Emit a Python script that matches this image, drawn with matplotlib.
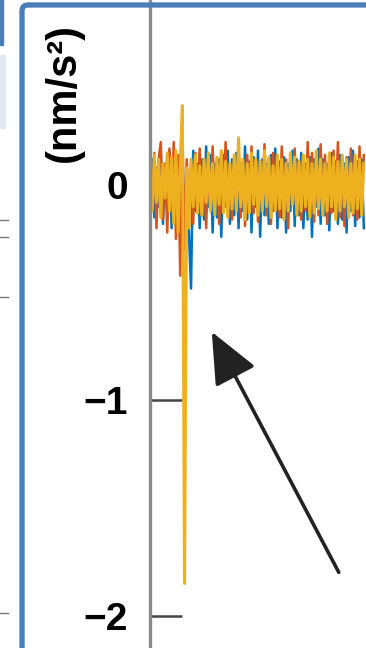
import matplotlib.pyplot as plt
import numpy as np
from matplotlib.patches import FancyBboxPatch, Rectangle
from matplotlib.lines import Line2D

plt.rcParams['font.family'] = ['Liberation Sans', 'DejaVu Sans']
plt.rcParams['axes.unicode_minus'] = True

# ---------- data (nm/s^2), one value per sample ---------- #
blue = [-0.22, 0.12, -0.15, 0.08, -0.10, 0.14, -0.18, 0.10, -0.12, 0.16,
        -0.20, 0.10, -0.14, 0.12, -0.25, 0.15, -0.18, 0.08, -0.22, -0.48,
        0.16, -0.12, 0.10, -0.20, 0.12, -0.16, 0.18, -0.10, 0.14, -0.22,
        0.10, -0.15, 0.12, -0.24, 0.14, -0.10, 0.16, -0.18, 0.12, -0.14,
        0.15, -0.20, 0.10, -0.12, 0.18, -0.16, 0.11, -0.22, 0.13, -0.10,
        0.16, -0.24, 0.12, -0.14, 0.10, -0.18, 0.14, -0.12, 0.17, -0.20,
        0.11, -0.15, 0.13, -0.22, 0.10, -0.12, 0.16, -0.19, 0.12, -0.14,
        0.15, -0.20, 0.10, -0.16, 0.13, -0.24, 0.12, -0.10, 0.17, -0.18,
        0.12, -0.14, 0.10, -0.21, 0.15, -0.12, 0.11, -0.18, 0.14, -0.16,
        0.10, -0.22, 0.13, -0.12, 0.16, -0.19, 0.11, -0.15, 0.12, -0.20]

orange = [0.18, -0.10, 0.15, -0.20, 0.12, 0.20, -0.16, 0.10, -0.22, 0.17,
          -0.12, 0.20, -0.25, 0.14, -0.42, 0.25, -0.30, 0.12, -0.16, 0.10,
          -0.18, 0.15, -0.08, 0.17, -0.14, 0.10, -0.20, 0.14, -0.12, 0.18,
          -0.10, 0.12, -0.18, 0.15, -0.08, 0.20, -0.14, 0.10, -0.16, 0.13,
          -0.12, 0.17, -0.15, 0.11, -0.19, 0.14, -0.10, 0.18, -0.13, 0.12,
          -0.17, 0.10, -0.12, 0.19, -0.14, 0.11, -0.18, 0.15, -0.10, 0.13,
          -0.15, 0.18, -0.11, 0.12, -0.20, 0.14, -0.09, 0.17, -0.13, 0.11,
          -0.16, 0.13, -0.12, 0.20, -0.10, 0.15, -0.17, 0.11, -0.14, 0.19,
          -0.11, 0.14, -0.18, 0.12, -0.13, 0.16, -0.10, 0.20, -0.15, 0.12,
          -0.19, 0.13, -0.11, 0.17, -0.14, 0.10, -0.16, 0.18, -0.12, 0.14]

yellow = [0.06, -0.12, 0.14, -0.08, 0.12, -0.15, 0.10, -0.06, 0.15, -0.12,
          0.13, -0.18, 0.16, -0.22, 0.10, 0.37, -1.85, 0.08, -0.20, 0.12,
          -0.10, 0.14, -0.13, 0.09, -0.14, 0.12, -0.08, 0.15, -0.12, 0.10,
          -0.14, 0.13, -0.09, 0.16, -0.13, 0.11, -0.15, 0.10, -0.11, 0.14,
          -0.12, 0.22, -0.10, 0.12, -0.16, 0.10, -0.13, 0.15, -0.09, 0.12,
          -0.14, 0.11, -0.12, 0.16, -0.10, 0.13, -0.15, 0.09, -0.12, 0.14,
          -0.11, 0.12, -0.16, 0.10, -0.12, 0.15, -0.09, 0.13, -0.14, 0.11,
          -0.12, 0.14, -0.10, 0.12, -0.15, 0.10, -0.13, 0.16, -0.11, 0.12,
          -0.14, 0.10, -0.12, 0.15, -0.10, 0.13, -0.16, 0.11, -0.12, 0.14,
          -0.10, 0.12, -0.15, 0.10, -0.13, 0.14, -0.11, 0.12, -0.14, 0.10]

yticks = [-2, -1, 0]
ytick_labels = ['\u22122', '\u22121', '0']

# ---------- figure ---------- #
fig = plt.figure(figsize=(3.66, 6.48), dpi=100)
ax = fig.add_axes([150 / 366, 0, 216 / 366, 1])

for vals, c, w in [(blue, '#0072BD', 1.8), (orange, '#D95319', 1.8), (yellow, '#EDB120', 2.2)]:
    ax.plot(np.arange(len(vals)), vals, color=c, lw=w)

ax.set_xlim(0, 100)
ax.set_ylim(-2.15, 0.86)
ax.set_xticks([])
ax.set_yticks(yticks)
ax.set_yticklabels(ytick_labels, fontsize=28, fontweight='bold')
ax.tick_params(axis='y', direction='in', length=23, width=1.8, color='#444444', pad=16)
for s in ['top', 'right', 'bottom']:
    ax.spines[s].set_visible(False)
ax.spines['left'].set_color('#8a8a8a')
ax.spines['left'].set_linewidth(2.4)

ax.annotate('', xy=(28, -0.67), xytext=(88, -1.81),
            arrowprops=dict(arrowstyle='-|>,head_length=1.6,head_width=0.7',
                            mutation_scale=20, lw=2.6, color='#222222'))

fig.text(64 / 366, 1 - 92 / 648, '(nm/s²)', rotation=90, ha='center', va='center',
         fontsize=30, fontweight='bold')

# slide frame
px = fig.dpi_scale_trans
fig.add_artist(FancyBboxPatch((0.22, -1), 5, 6.43 + 1, boxstyle='round,pad=0,rounding_size=0.06',
                              transform=px, fill=False, ec='#4a7ebb', lw=3.8, zorder=5))

# bits of neighbouring panels at the left edge
fig.add_artist(Rectangle((0, 6.03), 0.025, 0.45, transform=px, color='#4a7ebb', zorder=5))
fig.add_artist(Rectangle((0, 5.20), 0.05, 0.73, transform=px, color='#e3e8f0', zorder=5))
for yy in [4.28, 4.11, 3.51, 0.35]:
    fig.add_artist(Line2D([0, 0.08], [yy, yy], transform=px, color='#777777', lw=1))

fig.savefig('out.png', dpi=100)
